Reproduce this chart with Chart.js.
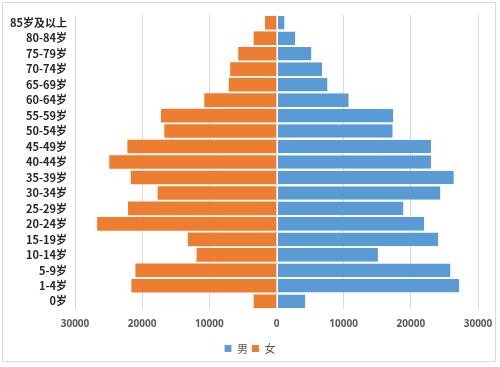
<!DOCTYPE html>
<html><head><meta charset="utf-8">
<script src="https://cdn.jsdelivr.net/npm/chart.js@4"></script>
<style>
html,body{margin:0;padding:0;background:#fff;}
#wrap{position:absolute;left:0;top:0;width:500px;height:367px;}
#frame{position:absolute;left:2px;top:2px;width:494px;height:360px;border:1px solid #d9d9d9;box-sizing:border-box;}
canvas{position:absolute;left:0;top:0;}
</style></head>
<body>
<div id="wrap"><div id="frame"></div><canvas id="c" width="500" height="367"></canvas></div>
<script>
const categories = ["85岁及以上","80-84岁","75-79岁","70-74岁","65-69岁","60-64岁","55-59岁","50-54岁","45-49岁","40-44岁","35-39岁","30-34岁","25-29岁","20-24岁","15-19岁","10-14岁","5-9岁","1-4岁","0岁"];
const male   = [1200, 2800, 5200, 6800, 7600, 10750, 17400, 17300, 23000, 23000, 26400, 24400, 18900, 22000, 24100, 15100, 25900, 27200, 4300];
const female = [1700, 3400, 5700, 6900, 7100, 10750, 17200, 16700, 22200, 24900, 21700, 17700, 22100, 26700, 13200, 11900, 21000, 21600, 3400];
const tickValues = [-30000,-20000,-10000,0,10000,20000,30000];

new Chart(document.getElementById('c'), {
  type: 'bar',
  data: {
    labels: categories,
    datasets: [
      {label: '男', data: male, backgroundColor: '#5B9BD5', categoryPercentage: 0.88, barPercentage: 1.0,
       borderColor: 'rgba(255,255,255,0.7)', borderWidth: {left: 1, right: 0, top: 0, bottom: 0}, borderSkipped: false},
      {label: '女', data: female.map(v => -v), backgroundColor: '#ED7D31', categoryPercentage: 0.88, barPercentage: 1.0}
    ]
  },
  options: {
    indexAxis: 'y',
    responsive: false,
    animation: false,
    layout: {padding: {left: 0, right: 0, top: 15, bottom: 3}},
    plugins: {
      legend: {
        position: 'bottom',
        labels: {boxWidth: 7, boxHeight: 7, padding: 4, color: '#595959', font: {size: 11, family: 'Noto Sans CJK SC'}}
      },
      tooltip: {enabled: false}
    },
    scales: {
      x: {
        stacked: true,
        min: -30000, max: 30000,
        afterBuildTicks: (s) => { s.ticks = tickValues.map(v => ({value: v})); },
        afterFit: (s) => { s.paddingRight = 22; s.paddingLeft = 0; },
        ticks: {color: '#595959', font: {size: 10, weight: 'bold', family: 'Noto Sans'}, padding: 9, callback: (v) => String(Math.abs(v)), maxRotation: 0},
        grid: {color: '#d9d9d9', drawTicks: false},
        border: {display: false}
      },
      y: {
        stacked: true,
        afterFit: (s) => { s.width = 75; },
        ticks: {color: '#262626', font: {size: 11, weight: 'bold', family: 'Noto Sans CJK SC'}, padding: 8, autoSkip: false},
        grid: {display: false, drawTicks: false},
        border: {display: false}
      }
    }
  }
});
</script>
</body></html>
